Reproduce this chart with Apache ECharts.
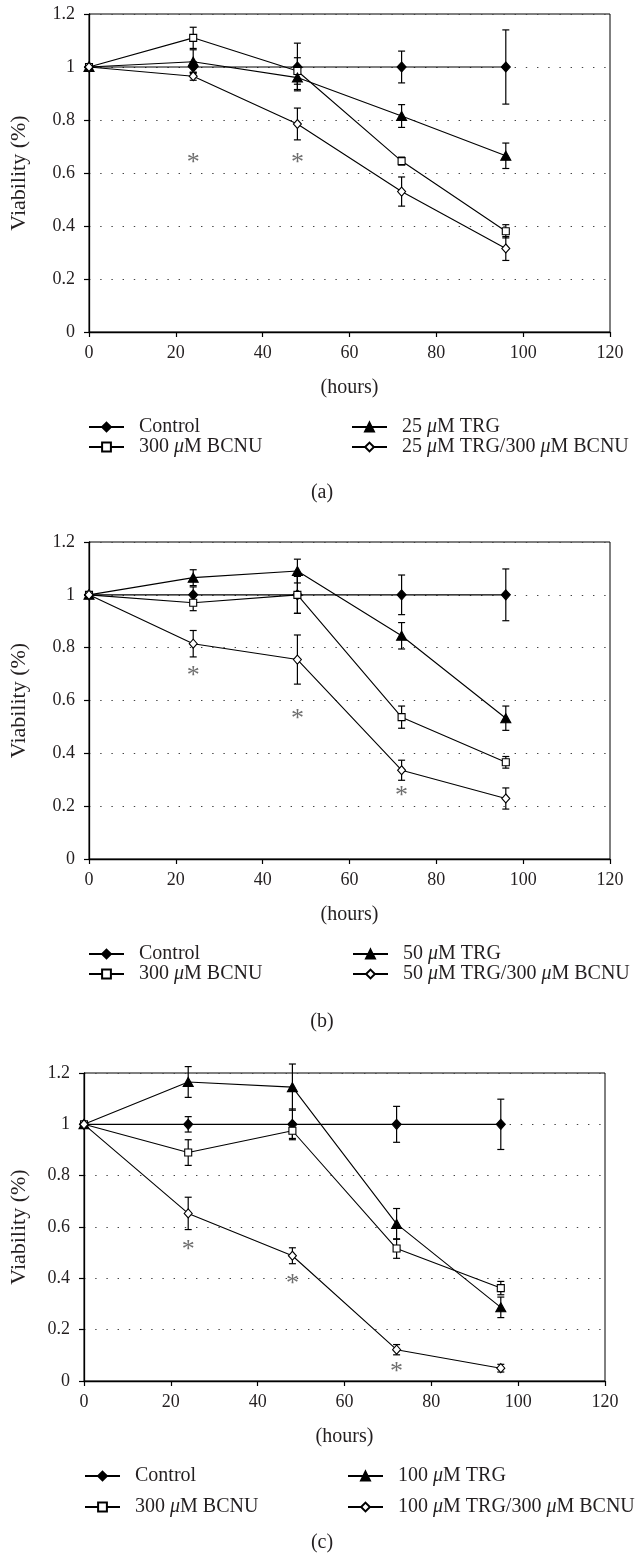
<!DOCTYPE html>
<html><head><meta charset="utf-8">
<script src="https://cdn.jsdelivr.net/npm/echarts@6/dist/echarts.min.js"></script>
<style>html,body{margin:0;padding:0;background:#fff}#c{width:640px;height:1554px}</style>
</head><body><div id="c"></div>
<script>
// ---------- DATA ----------
const hours = [0, 24, 48, 72, 96];
const panelLabels = ['(a)', '(b)', '(c)'];
const xTitle = '(hours)';
const yTitle = 'Viability (%)';
const controlName = 'Control';
const bcnuName = '300 μM BCNU';
const trgNames = ['25 μM TRG', '50 μM TRG', '100 μM TRG'];
const comboNames = ['25 μM TRG/300 μM BCNU', '50 μM TRG/300 μM BCNU', '100 μM TRG/300 μM BCNU'];

// panel (a)
const aControl = [1, 1, 1, 1, 1];
const aControlErr = [0, 0.02, 0.09, 0.06, 0.14];
const aBCNU = [1, 1.11, 0.985, 0.645, 0.38];
const aBCNUErr = [0, 0.04, 0.05, 0.015, 0.025];
const aTRG = [1, 1.02, 0.96, 0.815, 0.665];
const aTRGErr = [0, 0.045, 0.045, 0.043, 0.048];
const aCombo = [1, 0.965, 0.785, 0.53, 0.315];
const aComboErr = [0, 0.015, 0.06, 0.055, 0.045];
const aStarX = [24, 48];
const aStarY = [0.655, 0.655];

// panel (b)
const bControl = [1, 1, 1, 1, 1];
const bControlErr = [0, 0.03, 0.07, 0.075, 0.098];
const bBCNU = [1, 0.97, 1.0, 0.537, 0.366];
const bBCNUErr = [0, 0.03, 0.07, 0.042, 0.022];
const bTRG = [1, 1.065, 1.09, 0.845, 0.533];
const bTRGErr = [0, 0.03, 0.045, 0.05, 0.046];
const bCombo = [1, 0.815, 0.755, 0.336, 0.229];
const bComboErr = [0, 0.05, 0.093, 0.038, 0.04];
const bStarX = [24, 48, 72];
const bStarY = [0.71, 0.55, 0.255];

// panel (c)
const cControl = [1, 1, 1, 1, 1];
const cControlErr = [0, 0.03, 0.06, 0.07, 0.098];
const cBCNU = [1, 0.89, 0.975, 0.516, 0.362];
const cBCNUErr = [0, 0.05, 0.03, 0.038, 0.026];
const cTRG = [1, 1.165, 1.145, 0.612, 0.287];
const cTRGErr = [0, 0.06, 0.09, 0.06, 0.04];
const cCombo = [1, 0.653, 0.488, 0.122, 0.05];
const cComboErr = [0, 0.063, 0.031, 0.02, 0.015];
const cStarX = [24, 48, 72];
const cStarY = [0.53, 0.395, 0.055];

// ---------- LAYOUT ----------
const FONT = '"Liberation Serif", "DejaVu Serif", serif';
const INK = '#231f20';
const panels = [
  {ctrl:aControl, ctrlE:aControlErr, bcnu:aBCNU, bcnuE:aBCNUErr, trg:aTRG, trgE:aTRGErr, combo:aCombo, comboE:aComboErr, sx:aStarX, sy:aStarY,
   grid:{left:88, top:14, width:522, height:318}, yGap:59, legTop:417, legGap:0, col1:88, col2:351, labelY:493},
  {ctrl:bControl, ctrlE:bControlErr, bcnu:bBCNU, bcnuE:bBCNUErr, trg:bTRG, trgE:bTRGErr, combo:bCombo, comboE:bComboErr, sx:bStarX, sy:bStarY,
   grid:{left:88, top:542, width:522, height:317}, yGap:59, legTop:944, legGap:0, col1:88, col2:352, labelY:1022},
  {ctrl:cControl, ctrlE:cControlErr, bcnu:cBCNU, bcnuE:cBCNUErr, trg:cTRG, trgE:cTRGErr, combo:cCombo, comboE:cComboErr, sx:cStarX, sy:cStarY,
   grid:{left:83, top:1073, width:522, height:308}, yGap:54, legTop:1466, legGap:11, col1:84, col2:347, labelY:1543}
];

const chart = echarts.init(document.getElementById('c'), null, {renderer:'canvas'});
const grid = [], xAxis = [], yAxis = [], series = [], legend = [], graphic = [];

function errRender(params, api) {
  const x = api.value(0), y = api.value(1), e = api.value(2);
  if (!e) return null;
  const t = api.coord([x, y + e]), b = api.coord([x, y - e]);
  const hw = 3.5, st = {stroke:'#000', lineWidth:1.2};
  return {type:'group', children:[
    {type:'line', shape:{x1:t[0], y1:t[1], x2:b[0], y2:b[1]}, style:st},
    {type:'line', shape:{x1:t[0]-hw, y1:t[1], x2:t[0]+hw, y2:t[1]}, style:st},
    {type:'line', shape:{x1:b[0]-hw, y1:b[1], x2:b[0]+hw, y2:b[1]}, style:st}
  ]};
}
const richFmt = n => n.replace(/μ/g, '{i|μ}');

panels.forEach((p, i) => {
  grid.push(Object.assign({show:true, borderColor:'#000', borderWidth:1, backgroundColor:'transparent'}, p.grid));
  xAxis.push({type:'value', gridIndex:i, min:0, max:120, interval:20,
    name:xTitle, nameLocation:'middle', nameGap:46,
    nameTextStyle:{fontFamily:FONT, fontSize:20, color:INK},
    axisLine:{lineStyle:{color:'#000', width:1.3}}, axisTick:{inside:false, length:5, lineStyle:{color:'#000', width:1.2}},
    axisLabel:{fontFamily:FONT, fontSize:18, color:INK, margin:12}, splitLine:{show:false}});
  yAxis.push({type:'value', gridIndex:i, min:0, max:1.2, interval:0.2,
    name:yTitle, nameLocation:'middle', nameGap:p.yGap,
    nameTextStyle:{fontFamily:FONT, fontSize:22, color:INK},
    axisLine:{show:true, lineStyle:{color:'#000', width:1.3}}, axisTick:{show:true, inside:false, length:5, lineStyle:{color:'#000', width:1.2}},
    axisLabel:{fontFamily:FONT, fontSize:18, color:INK, margin:14},
    splitLine:{show:true, lineStyle:{color:'#444', width:1.2, type:[1.4, 9.8]}}});

  const groups = [
    {name:controlName, d:p.ctrl, e:p.ctrlE, symbol:'diamond', size:[9,10], fill:'#000'},
    {name:bcnuName, d:p.bcnu, e:p.bcnuE, symbol:'rect', size:7, fill:'#fff'},
    {name:trgNames[i], d:p.trg, e:p.trgE, symbol:'triangle', size:[10,9], fill:'#000'},
    {name:comboNames[i], d:p.combo, e:p.comboE, symbol:'diamond', size:[8,9], fill:'#fff'}
  ];
  const errData = [];
  groups.forEach(g => hours.forEach((h, k) => errData.push([h, g.d[k], g.e[k]])));
  series.push({type:'custom', xAxisIndex:i, yAxisIndex:i, renderItem:errRender, data:errData, z:1, silent:true});
  groups.forEach(g => {
    series.push({type:'line', name:g.name, xAxisIndex:i, yAxisIndex:i,
      data:hours.map((h, k) => [h, g.d[k]]),
      symbol:g.symbol, symbolSize:g.size, showAllSymbol:true,
      lineStyle:{color:'#000', width:1.1},
      itemStyle:{color:g.fill, borderColor:'#000', borderWidth:1.1},
      z:3, animation:false});
  });
  series.push({type:'scatter', xAxisIndex:i, yAxisIndex:i, data:p.sx.map((x, k) => [x, p.sy[k]]),
    symbol:'circle', symbolSize:2, itemStyle:{color:'rgba(0,0,0,0)'},
    label:{show:true, formatter:'*', position:'inside', fontFamily:FONT, fontSize:26, color:'#4a4a4a', offset:[0, 5]},
    z:4, silent:true});

  const legCommon = {orient:'vertical', top:p.legTop, itemWidth:35, itemHeight:11, itemGap:p.legGap, padding:0,
    selectedMode:false, formatter:richFmt,
    textStyle:{fontFamily:FONT, fontSize:20, color:INK, lineHeight:17, padding:[0,0,0,10],
      rich:{i:{fontFamily:FONT, fontSize:20, fontStyle:'italic', color:INK, lineHeight:17}}}};
  legend.push(Object.assign({left:p.col1, data:[controlName, bcnuName]}, legCommon));
  legend.push(Object.assign({left:p.col2, data:[trgNames[i], comboNames[i]]}, legCommon));

  graphic.push({type:'text', x:322, y:p.labelY,
    style:{text:panelLabels[i], font:'20px ' + FONT, fill:INK, textAlign:'center', textVerticalAlign:'middle'}});
});

chart.setOption({animation:false, backgroundColor:'#fff', grid, xAxis, yAxis, series, legend, graphic});
</script></body></html>
